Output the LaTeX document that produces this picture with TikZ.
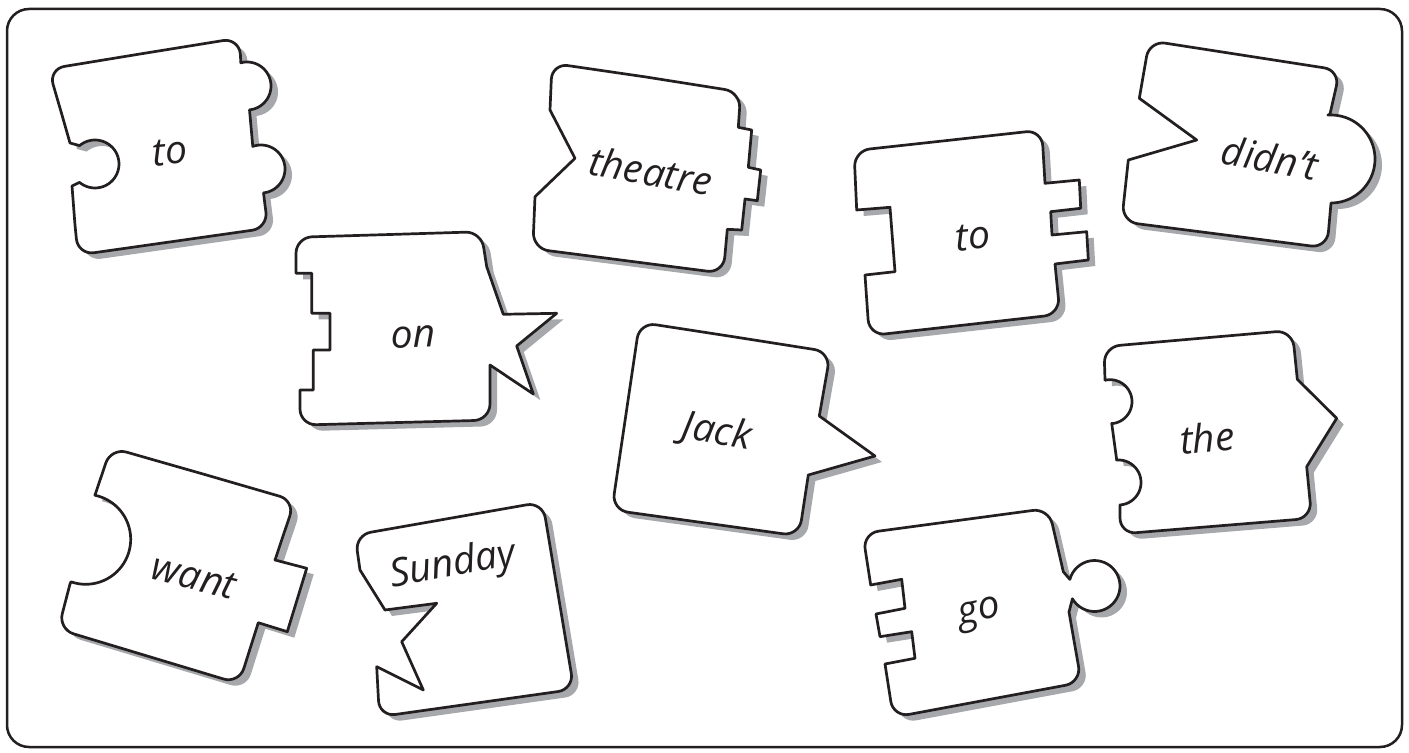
\documentclass[tikz,border=0pt]{standalone}
\usepackage{fontspec}
\usetikzlibrary{calc}
\newfontfamily\hand{Open Sans}
\definecolor{ink}{HTML}{231F20}
\definecolor{shade}{HTML}{A6A8AB}
\begin{document}
\begin{tikzpicture}[x=0.5pt,y=-0.5pt,
  piece/.style={draw=ink, fill=white, line width=1.35pt, line join=round,
    preaction={fill=shade, transform canvas={xshift=3.5pt,yshift=-3pt}}},
  word/.style={font=\hand\itshape\fontsize{19.5pt}{22pt}\selectfont, text=ink, inner sep=0pt},
  arcpl/.style={samples=40, variable=\t},
  rc/.style n args={3}{insert path={-- ($(#2)!8pt!(#1)$)
     .. controls ($(#2)!3.6pt!(#1)$) and ($(#2)!3.6pt!(#3)$) .. ($(#2)!8pt!(#3)$)}}]
\useasboundingbox (0,0) rectangle (1409,753);
\draw[ink, line width=1.25pt, rounded corners=11pt] (7,9) rectangle (1402,747);

% piece A: to (top left)
\path[piece] (140,54) [rc={140,54}{239,38}{240.5,56}] -- (240.5,56)
 -- plot[arcpl, domain=-105:84] ({247+24*cos(\t)},{86+24*sin(\t)})
 -- plot[arcpl, domain=-110:84] ({261+24*cos(\t)},{169+24*sin(\t)})
 -- (265,205) [rc={265,205}{268,228}{170,242}] [rc={170,242}{78,255}{75,225}]
 -- (75,225) -- (72,186) -- plot[arcpl, domain=130:-130] ({95+24*cos(\t)},{164+24*sin(\t)})
 -- (70,143) -- (62,115) [rc={62,115}{48.6,69}{140,54}] -- cycle;
\node[word, rotate=5] (tA) at (170,152) {to};

% piece B: on
\path[piece] (390,234.5) [rc={390,234.5}{481.7,231.7}{484,250}]
 -- (486.7,266.7) -- (503.3,314.3) -- (556.7,313.3) -- (516.7,346) -- (533.3,394) -- (490,365)
 [rc={490,365}{490,420}{400,423}] [rc={400,423}{300,425}{300,405}]
 -- (300,390) -- (313.3,390) -- (313.3,350) -- (330,350) -- (330,313.3) -- (311.7,313.3)
 -- (311.7,273.3) -- (296,273.3) [rc={296,273.3}{296,237.3}{390,234.5}] -- cycle;
\node[word, rotate=2] (tB) at (413,337) {on};

% piece C: theatre
\path[piece] (646,77) [rc={646,77}{740.7,92}{739.5,110}]
 -- (738.3,127.3) -- (751.7,130) -- (748.3,167.3) -- (760.7,170) -- (757.3,200.7) -- (745,199)
 -- (741.7,230) -- (727.3,229.3) [rc={727.3,229.3}{723.3,273.3}{630,261}]
 [rc={630,261}{532.7,248.7}{534,222}] -- (535,196.7) -- (575,158.3)
 -- (550,110) [rc={550,110}{552,63.3}{646,77}] -- cycle;
\node[word, rotate=-10] (tC) at (651,171) {theatre};

% piece D: to (middle right)
\path[piece] (948,140.4) [rc={948,140.4}{1042,130}{1043.5,160}]
 -- (1045,183.3) -- (1079.3,180) -- (1080.7,208.3) -- (1050.7,211.7) -- (1052,235)
 -- (1086.7,231.7) -- (1088.3,260) -- (1055,264) [rc={1055,264}{1060,314.3}{964.7,325}]
 [rc={964.7,325}{869.3,335.7}{867,305}] -- (865,275)
 -- (895,271.7) -- (890,207.3) -- (856.7,210) [rc={856.7,210}{854,150.7}{948,140.4}] -- cycle;
\node[word, rotate=5] (tD) at (973,237) {to};

% piece E: didn't
\path[piece] (1244.7,55.5) [rc={1244.7,55.5}{1340,70.3}{1335,92}]
 -- (1330,114) -- plot[arcpl, domain=-94:90] ({1331+44*cos(\t)},{159+44*sin(\t)})
 [rc={1331,203}{1327,248}{1224,235}] [rc={1224,235}{1121.7,221.7}{1125,190}]
 -- (1128.3,160) -- (1196.7,140) -- (1139.3,98.3)
 [rc={1139.3,98.3}{1149.3,40.7}{1244.7,55.5}] -- cycle;
\node[word, rotate=-10] (tE) at (1270,158) {didn’t};

% piece F: Jack
\path[piece] (735,337) [rc={735,337}{830.3,352}{825,385}]
 -- (819.3,416) -- (875,456) -- (808.3,475) [rc={808.3,475}{799,536}{705,523}]
 [rc={705,523}{612,510}{625,416}] [rc={625,416}{639.7,322.3}{735,337}] -- cycle;
\node[word, rotate=-10] (tF) at (717,433) {Jack};

% piece G: the
\path[piece] (1198,338.5) [rc={1198,338.5}{1292,330.3}{1295,355}]
 -- (1297.3,379.3) -- (1336.7,418.3) -- (1306.7,466.7) [rc={1306.7,466.7}{1311.7,518.3}{1216,526}]
 [rc={1216,526}{1120,534}{1120,518}]
 -- (1120,505) -- plot[arcpl, domain=86:-95] ({1118.5+22.5*cos(\t)},{482.5+22.5*sin(\t)})
 -- (1116.7,460) -- (1111.7,423.3) -- plot[arcpl, domain=85:-103] ({1110+22*cos(\t)},{401.7+22*sin(\t)})
 -- (1105,380) [rc={1105,380}{1104,346.7}{1198,338.5}] -- cycle;
\node[word, rotate=5] (tG) at (1207,438) {the};

% piece H: want
\path[piece] (203,474) [rc={203,474}{295,500.7}{285,530}]
 -- (275,560) -- (306.7,568.3) -- (287.3,631.7) -- (258.3,622.7) [rc={258.3,622.7}{239,683.7}{148,656}]
 [rc={148,656}{58.3,629.3}{64,607}] -- (70,584)
 -- plot[arcpl, domain=109:-78] ({85.7+45*cos(\t)},{539.3+45*sin(\t)})
 -- (95,495) [rc={95,495}{111,447.7}{203,474}] -- cycle;
\node[word, rotate=-14] (tH) at (194,577) {want};

% piece I: Sunday
\path[piece] (448.8,518.5) [rc={448.8,518.5}{542.7,502}{558,595}] [rc={558,595}{574,689.3}{477,703}]
 [rc={477,703}{379.3,716.7}{378,690}] -- (376.7,666.7) -- (423.3,690)
 -- (401.7,641.7) -- (436.7,603.3) -- (385,610) -- (360,570) [rc={360,570}{355,535}{448.8,518.5}] -- cycle;
\node[word, rotate=10] (tI) at (453,566) {Sunday};

% piece J: go
\path[piece] (955.7,520.8) [rc={955.7,520.8}{1048.7,508.3}{1056,540}]
 -- (1063.3,571.7) -- plot[arcpl, domain=-165:150] ({1094.5+25.5*cos(\t)},{586+25.5*sin(\t)})
 -- (1069,612) [rc={1069,612}{1081.3,682.3}{987,700}] [rc={987,700}{893.3,717.3}{889,690}]
 -- (885,664) -- (915,658.3) -- (911.7,631.7) -- (880,636.7) -- (876,614) -- (905,608.3)
 -- (901.7,579.3) -- (870.7,585) [rc={870.7,585}{862.7,533.3}{955.7,520.8}] -- cycle;
\node[word, rotate=12] (tJ) at (980,615) {go};
\end{tikzpicture}
\end{document}
